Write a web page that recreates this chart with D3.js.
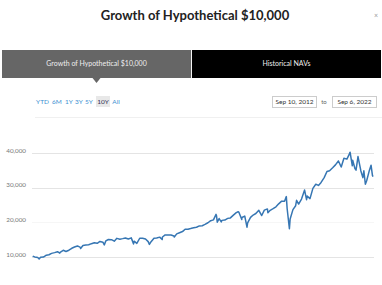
<!DOCTYPE html>
<html>
<head>
<meta charset="utf-8">
<script src="https://cdn.jsdelivr.net/npm/d3@7"></script>
<style>
  body { margin: 0; background: #fff; }
  svg { display: block; font-family: Lato, "Open Sans", sans-serif; }
</style>
</head>
<body>
<svg id="chart"></svg>
<script>
// growth of 10k (month ends plus the main highs and lows)
const dates = [
  "2012-09-10","2012-09-14","2012-09-28","2012-10-31","2012-11-15","2012-11-30","2012-12-31",
  "2013-01-31","2013-02-28","2013-03-28","2013-04-30","2013-05-31","2013-06-24","2013-06-28","2013-07-31","2013-08-30","2013-09-30","2013-10-31","2013-11-29","2013-12-31",
  "2014-01-31","2014-02-03","2014-02-28","2014-03-31","2014-04-30","2014-05-30","2014-06-30","2014-07-31","2014-08-29","2014-09-30","2014-10-15","2014-10-31","2014-11-28","2014-12-31",
  "2015-01-30","2015-02-27","2015-03-31","2015-04-30","2015-05-29","2015-06-30","2015-07-31","2015-08-25","2015-08-31","2015-09-29","2015-10-30","2015-11-30","2015-12-31",
  "2016-01-29","2016-02-11","2016-02-29","2016-03-31","2016-04-29","2016-05-31","2016-06-27","2016-06-30","2016-07-29","2016-08-31","2016-09-30","2016-10-31","2016-11-04","2016-11-30","2016-12-30",
  "2017-01-31","2017-02-28","2017-03-31","2017-04-28","2017-05-31","2017-06-30","2017-07-31","2017-08-31","2017-09-29","2017-10-31","2017-11-30","2017-12-29",
  "2018-01-26","2018-01-31","2018-02-08","2018-02-28","2018-03-23","2018-03-29","2018-04-30","2018-05-31","2018-06-29","2018-07-31","2018-08-31","2018-09-20","2018-09-28","2018-10-29","2018-10-31","2018-11-30","2018-12-24","2018-12-31",
  "2019-01-31","2019-02-28","2019-03-29","2019-04-30","2019-05-31","2019-06-28","2019-07-31","2019-08-05","2019-08-30","2019-09-30","2019-10-31","2019-11-29","2019-12-31",
  "2020-01-31","2020-02-19","2020-02-28","2020-03-23","2020-03-31","2020-04-30","2020-05-29","2020-06-08","2020-06-30","2020-07-31","2020-09-02","2020-09-23","2020-09-30","2020-10-30","2020-11-30","2020-12-31",
  "2021-01-29","2021-02-26","2021-03-31","2021-04-30","2021-05-28","2021-06-30","2021-07-30","2021-08-31","2021-09-30","2021-10-29","2021-11-30","2021-12-31",
  "2022-01-03","2022-01-27","2022-01-31","2022-02-24","2022-03-08","2022-03-29","2022-04-29","2022-05-20","2022-05-31","2022-06-16","2022-06-30","2022-07-29","2022-08-16","2022-08-31","2022-09-06"
];
const growth = [
  10000,10200,10020,9855,9450,9900,9985,
  10510,10640,11040,11260,11520,11120,11355,11945,11580,11950,12510,12870,13195,
  12755,12460,13310,13430,13545,13845,14130,13950,14480,14285,13500,14645,15040,15000,
  14565,15380,15140,15300,15485,15190,15520,13790,14560,13935,15410,15430,15190,
  14445,13630,14410,15395,15460,15730,15025,15775,16370,16375,16370,16080,15785,16665,17000,
  17335,18015,18025,18215,18465,18580,18975,19025,19405,19875,20475,20710,
  22290,21910,20045,21095,20135,20565,20655,21140,21280,22085,22800,23040,22935,20825,21385,21800,18600,19835,
  21435,22105,22540,23475,21965,23525,23870,22780,23475,23930,24460,25335,26105,
  26110,27430,23930,18150,20975,23670,24785,26340,25285,26725,29320,26535,27570,26850,29795,30975,
  30655,31505,32900,34655,34900,35745,36580,37705,35975,38490,38235,39965,
  40225,36305,37930,35515,35055,38970,34820,32900,34880,30980,32005,34980,36490,33550,33180
];
const yTicks = [10000, 20000, 30000, 40000];
const rangeButtons = ["YTD", "6M", "1Y", "3Y", "5Y", "10Y", "All"];
const activeRange = "10Y";
const tabs = ["Growth of Hypothetical $10,000", "Historical NAVs"];
const fromDate = "Sep 10, 2012";
const toDate = "Sep 6, 2022";

const W = 382, H = 285;
const svg = d3.select("#chart").attr("width", W).attr("height", H);

// title + close
svg.append("text")
  .attr("x", 195).attr("y", 20)
  .attr("text-anchor", "middle")
  .attr("font-size", 13).attr("font-weight", 700).attr("fill", "#222")
  .text("Growth of Hypothetical $10,000");
svg.append("text")
  .attr("x", 376).attr("y", 18).attr("text-anchor", "middle")
  .attr("font-size", 7).attr("fill", "#999").text("×");

// tabs
const tabX = d3.scaleBand().domain(tabs).range([2, 381]).paddingInner(0.005);
const tabG = svg.append("g");
tabG.selectAll("rect").data(tabs).join("rect")
  .attr("x", d => tabX(d)).attr("y", 50)
  .attr("width", tabX.bandwidth()).attr("height", 28)
  .attr("fill", (d, i) => i === 0 ? "#666" : "#000");
tabG.selectAll("text").data(tabs).join("text")
  .attr("x", d => tabX(d) + tabX.bandwidth() / 2).attr("y", 64)
  .attr("dy", "0.35em").attr("text-anchor", "middle")
  .attr("font-size", 7).attr("fill", "#eee")
  .text(d => d);
const tx = tabX(tabs[0]) + tabX.bandwidth() / 2;
svg.append("path")
  .attr("d", `M${tx - 4},78 L${tx + 4},78 L${tx},83 Z`)
  .attr("fill", "#666");

// range buttons
const btnX = [42.5, 57, 69, 79, 89, 103, 116];
const btnG = svg.append("g");
btnG.selectAll("rect").data(rangeButtons.filter(d => d === activeRange)).join("rect")
  .attr("x", d => btnX[rangeButtons.indexOf(d)] - 7).attr("y", 96)
  .attr("width", 14).attr("height", 11).attr("fill", "#e8e8e8");
btnG.selectAll("text").data(rangeButtons).join("text")
  .attr("x", (d, i) => btnX[i]).attr("y", 102)
  .attr("dy", "0.35em").attr("text-anchor", "middle")
  .attr("font-size", 6.5)
  .attr("fill", d => d === activeRange ? "#335" : "#3d8fd1")
  .text(d => d);

// date inputs
[[fromDate, 272], [toDate, 332]].forEach(([t, x]) => {
  svg.append("rect").attr("x", x + 0.5).attr("y", 96.5)
    .attr("width", 44).attr("height", 11)
    .attr("fill", "#fff").attr("stroke", "#ccc");
  svg.append("text").attr("x", x + 22.5).attr("y", 102).attr("dy", "0.35em")
    .attr("text-anchor", "middle").attr("font-size", 6.5).attr("fill", "#333").text(t);
});
svg.append("text").attr("x", 324).attr("y", 102).attr("dy", "0.35em")
  .attr("text-anchor", "middle").attr("font-size", 6).attr("fill", "#666").text("to");

svg.append("line").attr("x1", 35).attr("x2", 382).attr("y1", 117.5).attr("y2", 117.5)
  .attr("stroke", "#f0f0f0");

// plot
const parse = d3.timeParse("%Y-%m-%d");
const data = dates.map((d, i) => ({ date: parse(d), value: growth[i] }));

const x = d3.scaleTime().domain(d3.extent(data, d => d.date)).range([33, 373]);
const y = d3.scaleLinear().domain([10000, 40000]).range([257, 153]);

// the 20,000 line barely shows in the original
const grid = svg.append("g");
grid.selectAll("line").data(yTicks).join("line")
  .attr("x1", 32).attr("x2", 374)
  .attr("y1", d => Math.round(y(d)) + 0.5).attr("y2", d => Math.round(y(d)) + 0.5)
  .attr("stroke", d => d === 20000 ? "#f6f6f6" : "#e4e4e4");

const yAxis = svg.append("g")
  .attr("transform", "translate(26,0)")
  .call(d3.axisLeft(y).tickValues(yTicks).tickSize(0).tickPadding(0)
    .tickFormat(d3.format(",")));
yAxis.select(".domain").remove();
yAxis.selectAll("text")
  .attr("dy", "-0.15em")
  .attr("font-family", "Lato, sans-serif")
  .attr("font-size", 6.3).attr("fill", "#777");

const line = d3.line().x(d => x(d.date)).y(d => y(d.value));
svg.append("path").datum(data)
  .attr("d", line)
  .attr("fill", "none")
  .attr("stroke", "#3676b3")
  .attr("stroke-width", 1.5)
  .attr("stroke-linejoin", "round");
</script>
</body>
</html>
